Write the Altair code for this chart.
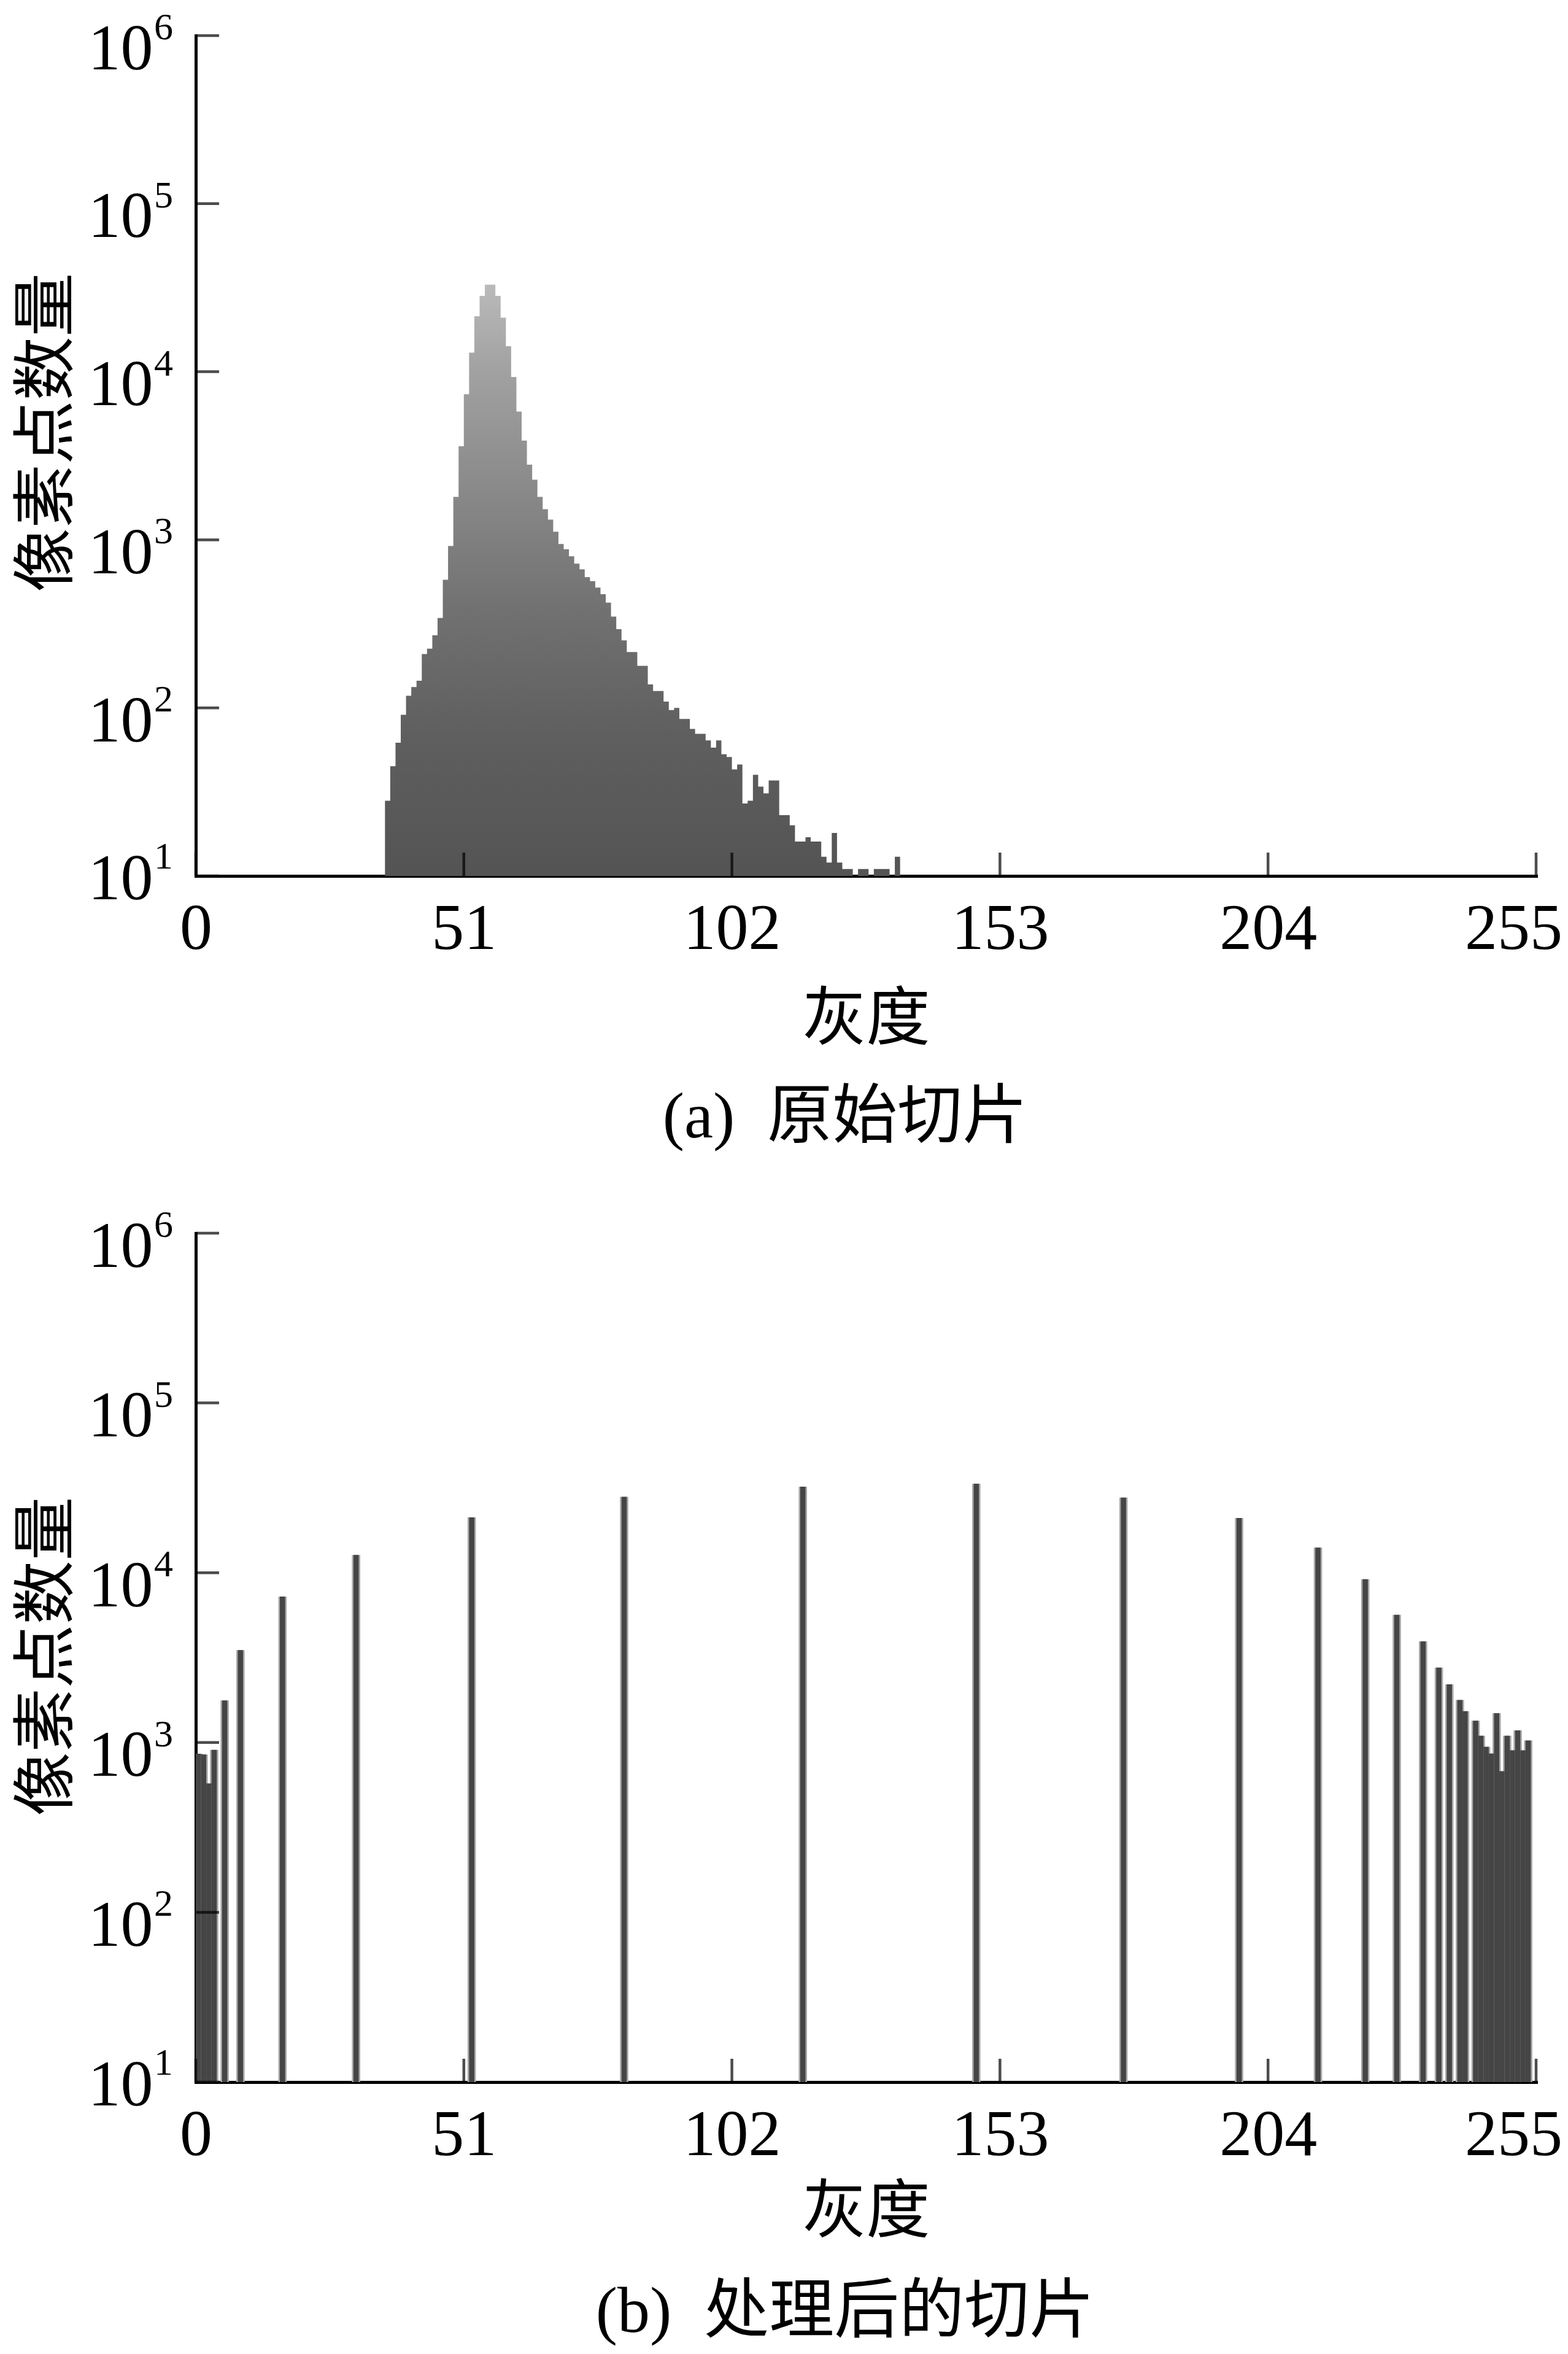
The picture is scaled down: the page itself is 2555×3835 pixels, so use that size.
import altair as alt
import pandas as pd

# ---------------- data ----------------
# (a) original slice: grey level (bin left edge) and pixel count
top_gray = list(range(36, 134))
top_count = [28, 45, 62, 91, 118, 133, 145, 209, 225, 270,
             343, 578, 918, 1800, 3600, 7340, 13000, 21400, 28300, 33000,
             33000, 28300, 21000, 14200, 9300, 5790, 3890, 2800, 2280, 1800,
             1520, 1320, 1116, 944, 878, 798, 721, 667, 600, 567,
             520, 475, 423, 349, 294, 252, 215, 215, 178, 178,
             138, 126, 126, 109, 97, 100, 86, 86, 75, 70,
             70, 64, 58, 64, 53, 51, 43, 46, 27, 28,
             40, 34, 31, 37, 37, 23, 23, 20, 16, 16,
             17, 16, 16, 13, 12, 18, 12, 11, 11, 0,
             11, 11, 0, 11, 11, 11, 0, 13]

# (b) processed slice
bot_gray = [0, 1, 2, 3, 5, 8, 16, 30, 52, 81, 115, 148, 176, 198,
            213, 222, 228, 233, 236, 238, 240, 241,
            243, 244, 245, 246, 247, 248, 249, 250, 251, 252, 253]
bot_count = [860, 850, 574, 906, 1770, 3500, 7245, 12730, 21200, 28000, 32100, 33400, 27700, 21000,
             14060, 9160, 5650, 3940, 2760, 2200, 1780, 1530,
             1345, 1097, 944, 861, 1490, 678, 1097, 900, 1178, 900, 1028]

x_ticks = [0, 51, 102, 153, 204, 255]
y_ticks = [10, 100, 1000, 10000, 100000, 1000000]

x_title = "灰度"
y_title = "像素点数量"
cap_a = "(a)\u00a0\u00a0原始切片"
cap_b = "(b)\u00a0\u00a0处理后的切片"

# ---------------- styling ----------------
SERIF = "Liberation Serif, Noto Sans CJK SC"
LBL = 106
EXP = 62
TTL = 104
W = 2184

XS = alt.Scale(domain=[0, 255], nice=False, zero=False)
YS = alt.Scale(type="log", domain=[10, 1000000], nice=False)


def x_axis(title_pad):
    return alt.Axis(values=x_ticks, title=x_title, grid=False, ticks=False, tickSize=0,
                    labelFont=SERIF, labelFontSize=LBL, labelColor="black",
                    labelPadding=34, labelFlush=False, labelOverlap=False,
                    labelOffset={"condition": {"test": "datum.value == 255", "value": -37}, "value": 0},
                    titleFont=SERIF, titleFontSize=TTL, titleFontWeight="normal",
                    titleColor="black", titlePadding=title_pad,
                    domainColor="black", domainWidth=5, domainCap="square")


def y_axis(title_y):
    return alt.Axis(values=y_ticks, title=y_title, grid=False, ticks=False, tickSize=0,
                    labelExpr="'10'", labelFont=SERIF, labelFontSize=LBL, labelColor="black",
                    labelPadding=70,
                    labelOffset={"condition": {"test": "datum.value == 10", "value": 5}, "value": 22},
                    labelOverlap=False, labelFlush=False,
                    titleFont=SERIF, titleFontSize=TTL, titleFontWeight="normal",
                    titleColor="black", titlePadding=12, titleY=title_y,
                    domainColor="black", domainWidth=5, domainCap="square")


def guide_layers(XA, YA):
    xt = alt.Chart(pd.DataFrame({"v": x_ticks})).mark_tick(
        orient="vertical", size=38, thickness=4.5, yOffset=-19, color="black"
    ).encode(x=alt.X("v:Q", scale=XS, axis=XA), y=alt.YDatum(10, scale=YS, axis=YA))
    yt = alt.Chart(pd.DataFrame({"v": y_ticks})).mark_tick(
        orient="horizontal", size=38, thickness=4.5, xOffset=19, color="black"
    ).encode(y=alt.Y("v:Q", scale=YS, axis=YA), x=alt.XDatum(0, scale=XS, axis=XA))
    exp_base = alt.Chart(pd.DataFrame({"v": y_ticks})).transform_calculate(
        e="'' + round(log(datum.v) / LN10)"
    )
    ex_hi = exp_base.transform_filter("datum.v > 10").mark_text(
        align="right", baseline="alphabetic", dx=-37, dy=6,
        font=SERIF, fontSize=EXP, color="black"
    ).encode(y=alt.Y("v:Q", scale=YS, axis=YA), x=alt.XDatum(0, scale=XS, axis=XA), text="e:N")
    ex_lo = exp_base.transform_filter("datum.v <= 10").mark_text(
        align="right", baseline="alphabetic", dx=-37, dy=-12,
        font=SERIF, fontSize=EXP, color="black"
    ).encode(y=alt.Y("v:Q", scale=YS, axis=YA), x=alt.XDatum(0, scale=XS, axis=XA), text="e:N")
    return [xt, yt, ex_hi, ex_lo]


# ---------------- (a) ----------------
XA1, YA1 = x_axis(45), y_axis(646)
top_df = pd.DataFrame({"gray": top_gray + [134], "count": top_count + [0]})
grad = alt.Gradient(
    gradient="linear",
    stops=[alt.GradientStop(color="#545454", offset=0),
           alt.GradientStop(color="#5f5f5f", offset=0.24),
           alt.GradientStop(color="#717171", offset=0.45),
           alt.GradientStop(color="#8a8a8a", offset=0.66),
           alt.GradientStop(color="#a2a2a2", offset=0.86),
           alt.GradientStop(color="#bababa", offset=1)],
    x1=0, x2=0, y1=1, y2=0)
area = alt.Chart(top_df).transform_calculate(
    c="max(datum.count, 10)"
).mark_area(interpolate="step-after", color=grad, clip=True).encode(
    x=alt.X("gray:Q", scale=XS, axis=XA1),
    y=alt.Y("c:Q", scale=YS, axis=YA1),
    y2=alt.Y2Datum(10),
)
top = alt.layer(area, *guide_layers(XA1, YA1)).properties(
    width=W, height=1369,
    title=alt.TitleParams(cap_a, orient="bottom", font=SERIF, fontSize=LBL, fontWeight="normal",
                          color="black", offset=55, anchor="middle", frame="group", dx=-34),
)

# ---------------- (b) ----------------
XA2, YA2 = x_axis(23), y_axis(689)
bot_df = pd.DataFrame({"gray": bot_gray, "count": bot_count})
bar_base = alt.Chart(bot_df).transform_calculate(g2="datum.gray + 1")
halo = bar_base.mark_bar(color="#a9a9a9", clip=True, xOffset=-2.5, x2Offset=2.5).encode(
    x=alt.X("gray:Q", scale=XS, axis=XA2),
    x2="g2:Q",
    y=alt.Y("count:Q", scale=YS, axis=YA2),
    y2=alt.Y2Datum(10),
)
bars = bar_base.mark_bar(color="#454545", clip=True).encode(
    x=alt.X("gray:Q", scale=XS, axis=XA2),
    x2="g2:Q",
    y=alt.Y("count:Q", scale=YS, axis=YA2),
    y2=alt.Y2Datum(10),
)
bottom = alt.layer(halo, bars, *guide_layers(XA2, YA2)).properties(
    width=W, height=1383,
    title=alt.TitleParams(cap_b, orient="bottom", font=SERIF, fontSize=LBL, fontWeight="normal",
                          color="black", offset=58, anchor="middle", frame="group", dx=-34),
)

chart = alt.vconcat(top, bottom, spacing=91).properties(
    padding={"left": 18, "top": 6, "right": 0, "bottom": 10},
    background="white",
).configure_view(stroke=None)

chart.save("out.html", embed_options={"renderer": "svg", "actions": False})
